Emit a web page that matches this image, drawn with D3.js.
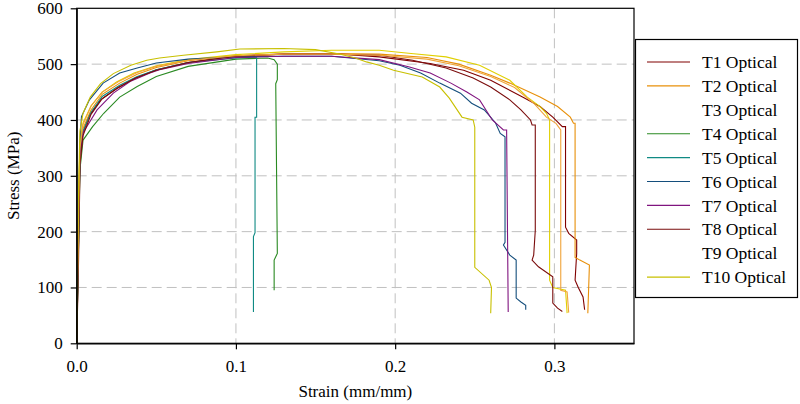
<!DOCTYPE html>
<html>
<head>
<meta charset="utf-8">
<script src="https://cdn.jsdelivr.net/npm/d3@7/dist/d3.min.js"></script>
<style>
  body { margin: 0; background: #fff; }
  text { font-family: 'Liberation Serif', 'Times New Roman', serif; }
  .grid line { stroke: #c0c0c0; stroke-dasharray: 10,5; }
  .axis path, .axis line { stroke: #000; stroke-width: 1.2; }
  .axis text { font-size: 17px; fill: #000; }
  .curve { fill: none; stroke-width: 1.1; }
</style>
</head>
<body>
<div id="chart"></div>
<script>
// series names as in the legend
const seriesNames = ['T1 Optical', 'T2 Optical', 'T3 Optical', 'T4 Optical', 'T5 Optical',
  'T6 Optical', 'T7 Optical', 'T8 Optical', 'T9 Optical', 'T10 Optical'];

// [strain (mm/mm), stress (MPa)]
const t1 = [[0,0],[0.001,120],[0.002,300],[0.003,370],[0.008,408],[0.015,436],[0.025,456],[0.036,474],
  [0.05,490],[0.07,503],[0.1,515],[0.13,518],[0.16,519],[0.19,513],[0.222,501],[0.243,489],[0.26,471],
  [0.28,441],[0.291,424],[0.299,405],[0.305,388],[0.307,388],[0.307,208],[0.309,197],[0.314,185],
  [0.314,161],[0.313,113],[0.315,100],[0.318,83],[0.319,60]];
const t2 = [[0,0],[0.001,180],[0.002,340],[0.004,385],[0.009,418],[0.016,446],[0.027,466],[0.038,482],
  [0.05,494],[0.07,506],[0.1,515],[0.13,518],[0.16,519],[0.19,518],[0.22,512],[0.24,500],[0.26,480],
  [0.272,466],[0.291,441],[0.302,424],[0.31,405],[0.312,394],[0.313,394],[0.313,154],[0.316,149],
  [0.322,140],[0.321,54]];
const t3 = [[0,0],[0.001,200],[0.002,360],[0.004,395],[0.009,425],[0.016,450],[0.025,468],[0.036,484],
  [0.05,497],[0.07,508],[0.1,517],[0.13,522],[0.16,525],[0.19,525],[0.21,519],[0.232,513],[0.253,498],
  [0.272,471],[0.283,441],[0.291,424],[0.295,412],[0.297,400],[0.297,113],[0.299,100],[0.307,95],
  [0.308,54]];
const t4 = [[0,0],[0.001,150],[0.002,310],[0.004,364],[0.01,388],[0.017,412],[0.027,441],[0.038,460],
  [0.05,478],[0.07,496],[0.1,509],[0.12,511],[0.124,508],[0.126,500],[0.126,472],[0.125,465],
  [0.126,161],[0.125,155],[0.124,149],[0.124,95]];
const t5 = [[0,0],[0.001,160],[0.002,330],[0.004,380],[0.009,414],[0.016,442],[0.027,462],[0.038,478],
  [0.05,490],[0.07,503],[0.1,511],[0.112,513],[0.113,511],[0.113,405],[0.112,405],[0.112,198],
  [0.111,191],[0.111,56]];
const t6 = [[0,0],[0.001,200],[0.002,360],[0.003,406],[0.008,436],[0.0166,466],[0.027,484],[0.038,493],
  [0.05,502],[0.07,509],[0.1,513],[0.13,514],[0.16,514],[0.19,506],[0.203,498],[0.216,484],[0.228,466],
  [0.241,448],[0.248,430],[0.256,418],[0.263,395],[0.266,376],[0.269,370],[0.269,181],[0.268,176],
  [0.272,158],[0.276,149],[0.276,81],[0.279,74],[0.282,68],[0.282,60]];
const t7 = [[0,0],[0.001,180],[0.002,330],[0.004,377],[0.0128,418],[0.023,448],[0.0335,469],[0.046,484],
  [0.052,490],[0.07,501],[0.1,512],[0.13,514],[0.16,514],[0.19,508],[0.209,495],[0.222,484],[0.235,466],
  [0.245,450],[0.253,436],[0.261,400],[0.268,382],[0.27,382],[0.271,56]];
const t8 = [[0,0],[0.001,150],[0.002,320],[0.004,372],[0.009,410],[0.016,438],[0.026,458],[0.037,475],
  [0.05,489],[0.07,503],[0.1,514],[0.13,518],[0.16,518],[0.19,516],[0.211,507],[0.232,493],[0.249,475],
  [0.26,459],[0.272,436],[0.279,418],[0.285,400],[0.286,391],[0.288,391],[0.288,202],[0.287,158],
  [0.286,149],[0.29,137],[0.299,119],[0.299,72],[0.302,63],[0.305,57]];
const t9 = [[0,0],[0.001,200],[0.002,350],[0.004,392],[0.009,425],[0.016,450],[0.027,470],[0.038,485],
  [0.05,496],[0.07,507],[0.1,515],[0.13,518],[0.16,518],[0.19,516],[0.22,509],[0.24,497],[0.26,478],
  [0.275,458],[0.287,430],[0.295,405],[0.301,394],[0.304,382],[0.304,95],[0.308,92],[0.309,55]];
const t10 = [[0,0],[0.001,250],[0.002,380],[0.004,412],[0.0085,441],[0.015,465],[0.023,483],[0.034,498],
  [0.044,507],[0.052,511],[0.067,516],[0.088,522],[0.1025,527],[0.13,528],[0.15,526],[0.165,518],
  [0.175,511],[0.182,504],[0.19,498],[0.199,489],[0.217,477],[0.228,459],[0.234,439],[0.242,405],
  [0.249,400],[0.25,387],[0.25,136],[0.259,113],[0.2605,100],[0.26,54]];

const xTicks = [0, 0.1, 0.2, 0.3];
const yTicks = [0, 100, 200, 300, 400, 500, 600];

const seriesData = [t1, t2, t3, t4, t5, t6, t7, t8, t9, t10];
const colors = ['#800000', '#e8900a', '#e0d000', '#2a8a22', '#108a84',
  '#144e7c', '#80147f', '#7a0c0c', '#f0a43a', '#c8c000'];
const noLegendLine = ['T3 Optical', 'T9 Optical'];

/**
* Draw stress-strain graph.
*/
function stressStrainGraph() {
  const totalWidth = 800;
  const totalHeight = 404;
  const margin = {top: 8.3, left: 76.7};
  const width = 634 - margin.left;
  const height = 343.3 - margin.top;

  let x = d3.scaleLinear().domain([0, 0.35]).range([0, width]);
  let y = d3.scaleLinear().domain([0, 600]).range([height, 0]);

  let svg = d3.select('#chart')
    .append('svg')
      .attr('width', totalWidth)
      .attr('height', totalHeight);

  let g = svg.append('g')
      .attr('transform', 'translate(' + margin.left + ',' + margin.top + ')');

  // dashed grid
  g.append('g')
      .attr('class', 'grid')
    .selectAll('line.h')
    .data(yTicks.filter(function(d) {
      return d > 0 && d < 600;
    }))
    .enter().append('line')
      .attr('x1', 0)
      .attr('x2', width)
      .attr('y1', function(d) {
        return y(d);
      })
      .attr('y2', function(d) {
        return y(d);
      });

  g.select('.grid')
    .selectAll('line.v')
    .data(xTicks.filter(function(d) {
      return d > 0;
    }))
    .enter().append('line')
      .attr('y1', 0)
      .attr('y2', height)
      .attr('x1', function(d) {
        return x(d);
      })
      .attr('x2', function(d) {
        return x(d);
      });

  let line = d3.line()
    .x(function(d) {
      return x(d[0]);
    })
    .y(function(d) {
      return y(d[1]);
    });

  g.selectAll('.curve')
    .data(seriesData)
    .enter().append('path')
      .attr('class', 'curve')
      .attr('stroke', function(d, i) {
        return colors[i];
      })
      .attr('d', line);

  // frame
  g.append('rect')
      .attr('width', width)
      .attr('height', height)
      .attr('fill', 'none')
      .attr('stroke', '#000')
      .attr('stroke-width', 1.2);

  g.append('g')
      .attr('class', 'axis')
      .attr('transform', 'translate(0,' + height + ')')
      .call(d3.axisBottom(x)
        .tickValues(xTicks)
        .tickFormat(d3.format('.1f'))
        .tickSizeInner(6)
        .tickSizeOuter(0)
        .tickPadding(11));

  g.append('g')
      .attr('class', 'axis')
      .call(d3.axisLeft(y)
        .tickValues(yTicks)
        .tickSizeInner(6)
        .tickSizeOuter(0)
        .tickPadding(8));

  g.selectAll('.axis .domain').attr('stroke-width', 1.2);

  svg.append('text')
      .attr('x', margin.left + width / 2)
      .attr('y', 397)
      .attr('text-anchor', 'middle')
      .style('font-size', '17px')
      .text('Strain (mm/mm)');

  svg.append('text')
      .attr('transform', 'translate(19,' + (margin.top + height / 2) + ') rotate(-90)')
      .attr('text-anchor', 'middle')
      .style('font-size', '17px')
      .text('Stress (MPa)');

  // legend
  let legend = svg.append('g')
      .attr('transform', 'translate(635.5,39.5)');

  legend.append('rect')
      .attr('width', 162)
      .attr('height', 258)
      .attr('fill', '#fff')
      .attr('stroke', '#000')
      .attr('stroke-width', 1.2);

  let rows = legend.selectAll('.legend-row')
    .data(seriesNames)
    .enter().append('g')
      .attr('class', 'legend-row')
      .attr('transform', function(d, i) {
        return 'translate(0,' + (22.5 + i * 23.9) + ')';
      });

  rows.filter(function(d) {
    return noLegendLine.indexOf(d) < 0;
  })
    .append('line')
      .attr('x1', 11.5)
      .attr('x2', 54.5)
      .attr('stroke-width', 1.1)
      .attr('stroke', function(d) {
        return colors[seriesNames.indexOf(d)];
      });

  rows.append('text')
      .attr('x', 66.5)
      .attr('dy', '0.35em')
      .style('font-size', '17.5px')
      .text(function(d) {
        return d;
      });
}

stressStrainGraph();
</script>
</body>
</html>
